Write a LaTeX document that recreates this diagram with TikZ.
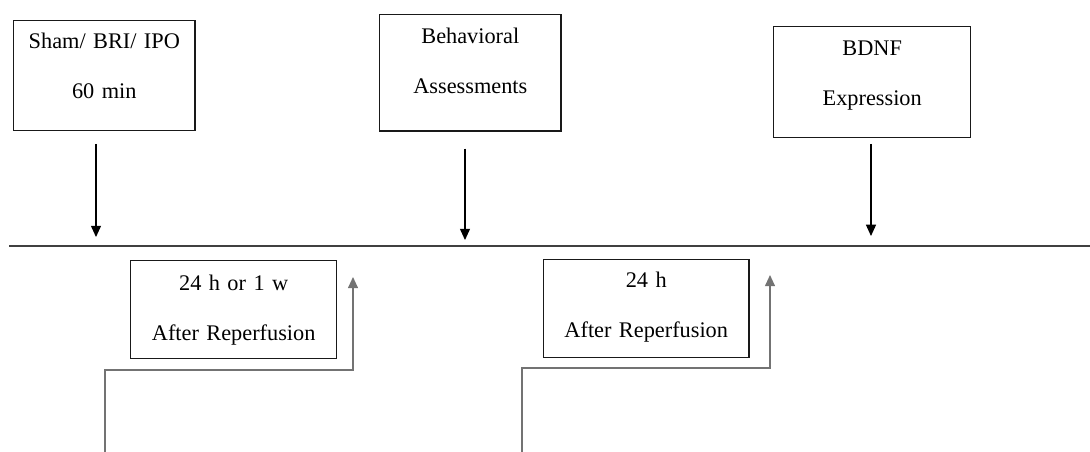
\documentclass[tikz,border=0pt]{standalone}
\usepackage{fontspec}
\setmainfont[WordSpace=0.75]{Liberation Serif}
\usetikzlibrary{arrows.meta,positioning}
\tikzset{
  stage/.style={rectangle, draw=black!90, line width=0.75pt, inner sep=0pt, anchor=north west,
                align=center, font=\fontsize{12.7}{28.3}\selectfont},
  arrow/.style={-{Triangle[width=5.7pt,length=6.4pt]}, line width=0.65pt},
  elbow/.style={arrow, draw=black!55, line width=0.85pt},
}

\begin{document}
\begin{tikzpicture}[x=0.02cm, y=-0.02cm]
  \useasboundingbox (0,0) rectangle (1090,452);

  % ----- Boxes above the timeline -----
  \node[stage, text width=103.2pt, text height=15.9pt, text depth=46.5pt] (sham) at (13,20)
    {Sham/ BRI/ IPO\\60 min};
  \node[stage, text width=103.2pt, text height=16.4pt, text depth=49.9pt] (behav) at (379,14)
    {Behavioral\\Assessments};
  \node[stage, text width=112.2pt, text height=16.4pt, text depth=46.5pt] (bdnf) at (773,26)
    {BDNF\\Expression};

  % ----- Boxes below the timeline -----
  \node[stage, text width=117.3pt, text height=17.0pt, text depth=38.5pt] (post1) at (130,260)
    {24 h or 1 w\\After Reperfusion};
  \node[stage, text width=116.8pt, text height=15.9pt, text depth=39.7pt] (post2) at (543,259)
    {24 h\\After Reperfusion};

  % ----- Timeline -----
  \coordinate (tl-start) at (9,246);
  \coordinate (tl-end) at (1090,246);
  \draw[line width=0.75pt, black!75] (tl-start) -- (tl-end);

  \coordinate (t1) at (96,246);
  \coordinate (t2) at (465,246);
  \coordinate (t3) at (871,246);

  % ----- Arrows -----
  \draw[arrow, shorten <=7.4pt, shorten >=5.1pt] (sham.south -| t1) -- (t1);
  \draw[arrow, shorten <=9.6pt, shorten >=3.4pt] (behav.south -| t2) -- (t2);
  \draw[arrow, shorten <=3.4pt, shorten >=5.7pt] (bdnf.south -| t3) -- (t3);

  \coordinate (s1) at (105,452);
  \coordinate (e1) at (353,277);
  \coordinate (s2) at (522,452);
  \coordinate (e2) at (770,275);
  \draw[elbow] (s1) -- ++(0,-82) -| (e1);
  \draw[elbow] (s2) -- ++(0,-84) -| (e2);

\end{tikzpicture}
\end{document}
